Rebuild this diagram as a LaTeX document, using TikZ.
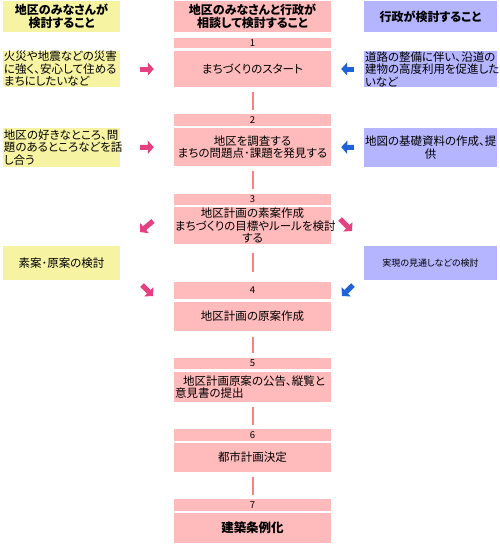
\documentclass[tikz,border=0pt]{standalone}
\usepackage{fontspec}
\setmainfont{Noto Sans CJK JP}[RawFeature=+palt]
\usetikzlibrary{arrows.meta}
\definecolor{ylw}{HTML}{F6F3A2}
\definecolor{pnk}{HTML}{FFBBBB}
\definecolor{blu}{HTML}{B4B4FF}
\definecolor{cred}{HTML}{FF8080}
\definecolor{apink}{HTML}{E5407F}
\definecolor{ablue}{HTML}{1F63D6}
\begin{document}
\begin{tikzpicture}[x=1pt,y=-1pt,
  box/.style={inner sep=0pt, font=\fontsize{11.5}{12.5}\selectfont},
  hdr/.style={font=\fontsize{12}{13.5}\selectfont\bfseries, align=center},
  ybox/.style={box, fill=ylw, minimum width=117pt, text width=115pt, align=left},
  pbox/.style={box, fill=pnk, minimum width=157pt, text width=155pt, align=center},
  bbox/.style={box, fill=blu, minimum width=133pt, text width=131pt, align=left},
  numstrip/.style={pbox, font=\fontsize{9.5}{10}\selectfont},
  conn/.style={draw=cred, line width=2pt},
  parr/.style={draw=apink, line width=5pt, -{Triangle[length=6pt,width=13pt]}},
  barr/.style={draw=ablue, line width=5pt, -{Triangle[length=6pt,width=13pt]}}]
\useasboundingbox (0,0) rectangle (500,547);

% headers
\node[ybox, hdr, minimum height=31pt] (l0) at (61.5,16.5) {地区のみなさんが\\検討すること};
\node[pbox, hdr, minimum height=31pt] (m0) at (252.5,16.5) {地区のみなさんと行政が\\相談して検討すること};
\node[bbox, hdr, minimum height=31pt] (r0) at (430.5,16.5) {行政が検討すること};

% middle column
\node[numstrip, minimum height=10pt] (s1) at (252.5,43) {1};
\node[pbox, minimum height=36pt] (m1) at (252.5,69) {まちづくりのスタート};
\node[numstrip, minimum height=12pt] (s2) at (252.5,120) {2};
\node[pbox, minimum height=38pt] (m2) at (252.5,147) {地区を調査する\\まちの問題点･課題を発見する};
\node[numstrip, minimum height=11pt] (s3) at (252.5,199.5) {3};
\node[pbox, minimum height=37pt] (m3) at (252.5,225.5) {地区計画の素案作成\\まちづくりの目標やルールを検討\\する};
\node[numstrip, minimum height=17pt] (s4) at (252.5,290.5) {4};
\node[pbox, minimum height=29pt] (m4) at (252.5,316.5) {地区計画の原案作成};
\node[numstrip, minimum height=11pt] (s5) at (252.5,363.5) {5};
\node[pbox, align=left, minimum height=30pt] (m5) at (252.5,387) {\hspace{8pt}地区計画原案の公告、縦覧と\\意見書の提出};
\node[numstrip, minimum height=12pt] (s6) at (252.5,435) {6};
\node[pbox, minimum height=29pt] (m6) at (252.5,457.5) {都市計画決定};
\node[numstrip, minimum height=12pt] (s7) at (252.5,505) {7};
\node[pbox, minimum height=30pt, font=\fontsize{12.5}{14}\selectfont\bfseries] (m7) at (252.5,528) {建築条例化};

% left column
\node[ybox, minimum height=36pt] (l1) at (61.5,69) {火災や地震などの災害\\に強く、安心して住める\\まちにしたいなど};
\node[ybox, minimum height=39pt] (l2) at (61.5,147.5) {地区の好きなところ、問\\題のあるところなどを話\\し合う};
\node[ybox, align=center, minimum height=34pt] (l3) at (61.5,263) {素案･原案の検討};

% right column
\node[bbox, minimum height=36pt] (r1) at (430.5,69) {道路の整備に伴い、沿道の\\建物の高度利用を促進した\\いなど};
\node[bbox, align=center, minimum height=39pt] (r2) at (430.5,147.5) {地図の基礎資料の作成、提\\供};
\node[bbox, align=center, minimum height=34pt, font=\fontsize{9}{10}\selectfont] (r3) at (430.5,263) {実現の見通しなどの検討};

% connectors
\draw[conn, shorten <=5pt, shorten >=4pt] (m1.south) -- (s2.north);
\draw[conn, shorten <=5pt, shorten >=5pt] (m2.south) -- (s3.north);
\draw[conn, shorten <=9pt, shorten >=10pt] (m3.south) -- (s4.north);
\draw[conn, shorten <=6pt, shorten >=5pt] (m4.south) -- (s5.north);
\draw[conn, shorten <=5pt, shorten >=4pt] (m5.south) -- (s6.north);
\draw[conn, shorten <=5pt, shorten >=4pt] (m6.south) -- (s7.north);

% horizontal arrows
\draw[parr, shorten <=20pt, shorten >=20pt] (l1.east) -- (m1.west);
\draw[parr, shorten <=20pt, shorten >=20pt] (l2.east) -- (m2.west);
\draw[barr, shorten <=10pt, shorten >=10pt] (r1.west) -- (m1.east);
\draw[barr, shorten <=10pt, shorten >=10pt] (r2.west) -- (m2.east);

% diagonal arrows
\coordinate (d3la) at (153,221);
\coordinate (d3lb) at (140,232);
\coordinate (d3ra) at (340,219);
\coordinate (d3rb) at (352,231);
\coordinate (d4la) at (142,285);
\coordinate (d4lb) at (153,296);
\coordinate (d4ra) at (353,285);
\coordinate (d4rb) at (342,296);
\draw[parr] (d3la) -- (d3lb);
\draw[parr] (d3ra) -- (d3rb);
\draw[parr] (d4la) -- (d4lb);
\draw[barr] (d4ra) -- (d4rb);
\end{tikzpicture}
\end{document}
